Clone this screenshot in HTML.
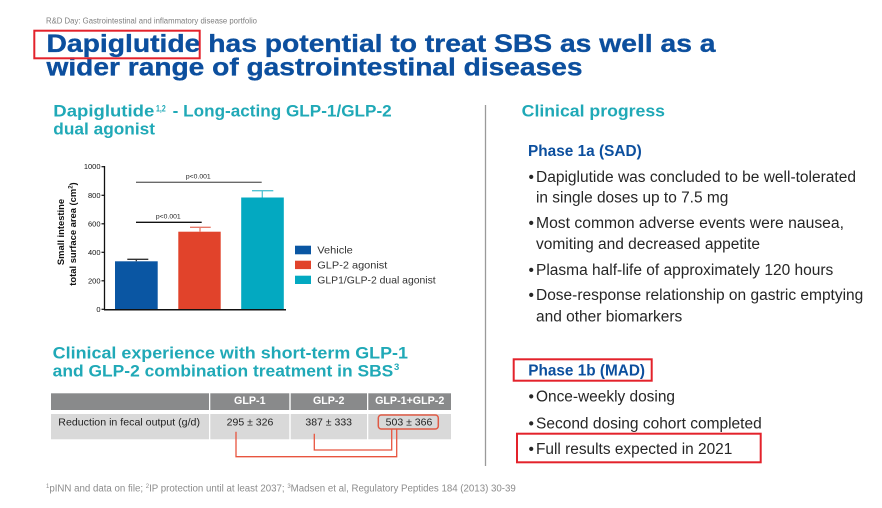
<!DOCTYPE html>
<html><head><meta charset="utf-8"><style>
html,body{margin:0;padding:0;background:#fff;}
svg{display:block;font-family:"Liberation Sans",Arial,sans-serif;}
</style></head><body>
<svg width="882" height="508" viewBox="0 0 882 508" xmlns="http://www.w3.org/2000/svg">
<rect width="882" height="508" fill="#fff"/>
<!-- header -->
<text x="46" y="23.3" font-size="7.8" fill="#7f7f7f" textLength="211" lengthAdjust="spacingAndGlyphs">R&amp;D Day: Gastrointestinal and inflammatory disease portfolio</text>
<!-- title -->
<g font-weight="bold" fill="#0c4f9e" font-size="25" stroke="#0c4f9e" stroke-width="0.35">
<text x="46.5" y="52" textLength="669" lengthAdjust="spacingAndGlyphs">Dapiglutide has potential to treat SBS as well as a</text>
<text x="46.5" y="75.5" textLength="536" lengthAdjust="spacingAndGlyphs">wider range of gastrointestinal diseases</text>
</g>
<rect x="34.3" y="30.7" width="165.4" height="27.6" fill="none" stroke="#e3222b" stroke-width="2"/>

<!-- left subtitle -->
<g font-weight="bold" fill="#20a9b7" font-size="17">
<text x="53.3" y="116.5" textLength="101" lengthAdjust="spacingAndGlyphs">Dapiglutide</text>
<text x="156" y="111.5" font-size="9" textLength="9.7" lengthAdjust="spacingAndGlyphs">1,2</text>
<text x="172.7" y="116.5" textLength="219" lengthAdjust="spacingAndGlyphs">- Long-acting GLP-1/GLP-2</text>
<text x="53.3" y="134.7" textLength="101.7" lengthAdjust="spacingAndGlyphs">dual agonist</text>
</g>

<!-- chart -->
<g font-size="7.5" fill="#111" text-anchor="end">
<text x="100.5" y="169.2">1000</text>
<text x="100.5" y="197.8">800</text>
<text x="100.5" y="226.3">600</text>
<text x="100.5" y="254.8">400</text>
<text x="100.5" y="283.3">200</text>
<text x="100.5" y="311.8">0</text>
</g>
<g stroke="#111" stroke-width="1.2">
<line x1="101.5" y1="166.7" x2="104.5" y2="166.7"/>
<line x1="101.5" y1="195.3" x2="104.5" y2="195.3"/>
<line x1="101.5" y1="223.8" x2="104.5" y2="223.8"/>
<line x1="101.5" y1="252.3" x2="104.5" y2="252.3"/>
<line x1="101.5" y1="280.8" x2="104.5" y2="280.8"/>
<line x1="101.5" y1="309.3" x2="104.5" y2="309.3"/>
</g>
<g font-weight="bold" font-size="9.4" fill="#111" text-anchor="middle">
<text transform="translate(64,232) rotate(-90)">Small intestine</text>
<text transform="translate(75.8,234) rotate(-90)">total surface area (cm<tspan font-size="6" dy="-3.5">2</tspan><tspan dy="3.5">)</tspan></text>
</g>
<rect x="115" y="261.3" width="42.7" height="48" fill="#0a56a3"/>
<rect x="178.3" y="231.7" width="42.4" height="77.6" fill="#e1432b"/>
<rect x="241.2" y="197.5" width="42.6" height="111.8" fill="#03a9c1"/>
<g stroke-width="1.3" fill="none">
<path d="M136.3 261.3V259.3M127.3 259.3H148.3" stroke="#333"/>
<path d="M200 231.7V227.3M190 227.3H210.7" stroke="#e77a6a"/>
<path d="M262.3 197.5V190.7M252 190.7H273.3" stroke="#55c3d3"/>
</g>
<line x1="104.5" y1="166" x2="104.5" y2="310" stroke="#111" stroke-width="1.3"/>
<line x1="104" y1="309.8" x2="286" y2="309.8" stroke="#111" stroke-width="1.5"/>
<line x1="136" y1="222.3" x2="201.7" y2="222.3" stroke="#111" stroke-width="1.3"/>
<line x1="136" y1="182.3" x2="261.7" y2="182.3" stroke="#6a6a6a" stroke-width="1.4"/>
<g font-size="6.8" fill="#222" text-anchor="middle">
<text x="168.3" y="218.3">p&lt;0.001</text>
<text x="198.3" y="178.3">p&lt;0.001</text>
</g>
<!-- legend -->
<rect x="295" y="245.7" width="16" height="8.6" fill="#0a56a3"/>
<rect x="295" y="260.7" width="16" height="8.4" fill="#e1432b"/>
<rect x="295" y="275.7" width="16" height="8.3" fill="#03a9c1"/>
<g font-size="10.4" fill="#333">
<text x="317.3" y="253.3" textLength="35.5" lengthAdjust="spacingAndGlyphs">Vehicle</text>
<text x="317.3" y="268.3" textLength="70" lengthAdjust="spacingAndGlyphs">GLP-2 agonist</text>
<text x="317.3" y="283.3" textLength="118.4" lengthAdjust="spacingAndGlyphs">GLP1/GLP-2 dual agonist</text>
</g>

<!-- clinical experience -->
<g font-weight="bold" fill="#20a9b7" font-size="17">
<text x="52.7" y="358.3" textLength="355.3" lengthAdjust="spacingAndGlyphs">Clinical experience with short-term GLP-1</text>
<text x="52.7" y="376.7" textLength="340.6" lengthAdjust="spacingAndGlyphs">and GLP-2 combination treatment in SBS</text>
<text x="394" y="370" font-size="9.5">3</text>
</g>

<!-- table -->
<g fill="#898a8b">
<rect x="51" y="393.3" width="158" height="16.7"/>
<rect x="210.3" y="393.3" width="79" height="16.7"/>
<rect x="290.7" y="393.3" width="76.3" height="16.7"/>
<rect x="368.3" y="393.3" width="82.7" height="16.7"/>
</g>
<g fill="#d9d9d9">
<rect x="51" y="414" width="158" height="25.3"/>
<rect x="210.3" y="414" width="79" height="25.3"/>
<rect x="290.7" y="414" width="76.3" height="25.3"/>
<rect x="368.3" y="414" width="82.7" height="25.3"/>
</g>
<g font-weight="bold" font-size="10.7" fill="#fff" text-anchor="middle">
<text x="249.8" y="404">GLP-1</text>
<text x="328.7" y="404">GLP-2</text>
<text x="409.7" y="404">GLP-1+GLP-2</text>
</g>
<g font-size="10.5" fill="#222">
<text x="58.3" y="425.7" textLength="141.7" lengthAdjust="spacingAndGlyphs">Reduction in fecal output (g/d)</text>
<text x="250" y="425.7" text-anchor="middle">295 ± 326</text>
<text x="328.7" y="425.7" text-anchor="middle">387 ± 333</text>
<text x="409" y="425.7" text-anchor="middle">503 ± 366</text>
</g>
<rect x="378.3" y="415" width="60" height="14" rx="3" ry="3" fill="none" stroke="#e05a45" stroke-width="1.5"/>
<g fill="none" stroke="#e8553f" stroke-width="1.3">
<path d="M236 431.7V456.7H396.7V429.5"/>
<path d="M314.3 433.7V450H391.7V429.5"/>
</g>

<!-- footnote -->
<text x="46" y="491.7" font-size="9.7" fill="#8c8c8c"><tspan font-size="6" dy="-3.5">1</tspan><tspan dy="3.5">pINN and data on file; </tspan><tspan font-size="6" dy="-3.5">2</tspan><tspan dy="3.5">IP protection until at least 2037;  </tspan><tspan font-size="6" dy="-3.5">3</tspan><tspan dy="3.5">Madsen et al, Regulatory Peptides 184 (2013) 30-39</tspan></text>

<!-- divider -->
<line x1="485.5" y1="105" x2="485.5" y2="466" stroke="#9a9a9a" stroke-width="1.3"/>

<!-- right column -->
<text x="521.7" y="116.7" font-weight="bold" font-size="17" fill="#20a9b7" textLength="143.3" lengthAdjust="spacingAndGlyphs">Clinical progress</text>
<text x="528" y="156" font-weight="bold" font-size="15.5" fill="#0c4f9e" textLength="113.7" lengthAdjust="spacingAndGlyphs">Phase 1a (SAD)</text>
<g font-size="15.5" fill="#262626">
<text x="528.5" y="182">•</text>
<text x="536" y="182" textLength="320" lengthAdjust="spacingAndGlyphs">Dapiglutide was concluded to be well-tolerated</text>
<text x="536" y="202.5" textLength="192.3" lengthAdjust="spacingAndGlyphs">in single doses up to 7.5 mg</text>
<text x="528.5" y="228">•</text>
<text x="536" y="228" textLength="308" lengthAdjust="spacingAndGlyphs">Most common adverse events were nausea,</text>
<text x="536" y="249" textLength="224" lengthAdjust="spacingAndGlyphs">vomiting and decreased appetite</text>
<text x="528.5" y="275">•</text>
<text x="536" y="275" textLength="297.3" lengthAdjust="spacingAndGlyphs">Plasma half-life of approximately 120 hours</text>
<text x="528.5" y="300">•</text>
<text x="536" y="300" textLength="327.3" lengthAdjust="spacingAndGlyphs">Dose-response relationship on gastric emptying</text>
<text x="536" y="321.5" textLength="146.3" lengthAdjust="spacingAndGlyphs">and other biomarkers</text>
</g>
<text x="528.3" y="375.7" font-weight="bold" font-size="15.5" fill="#0c4f9e" textLength="116.7" lengthAdjust="spacingAndGlyphs">Phase 1b (MAD)</text>
<rect x="513.7" y="359.3" width="138" height="21.4" fill="none" stroke="#e3222b" stroke-width="2"/>
<g font-size="15.5" fill="#262626">
<text x="528.5" y="401.7">•</text>
<text x="536" y="401.7" textLength="139" lengthAdjust="spacingAndGlyphs">Once-weekly dosing</text>
<text x="528.5" y="428.3">•</text>
<text x="536" y="428.3" textLength="225.7" lengthAdjust="spacingAndGlyphs">Second dosing cohort completed</text>
<text x="528.5" y="454">•</text>
<text x="536" y="454" textLength="196.3" lengthAdjust="spacingAndGlyphs">Full results expected in 2021</text>
</g>
<rect x="517" y="433.7" width="243.7" height="28.6" fill="none" stroke="#e3222b" stroke-width="2"/>
</svg>
</body></html>
